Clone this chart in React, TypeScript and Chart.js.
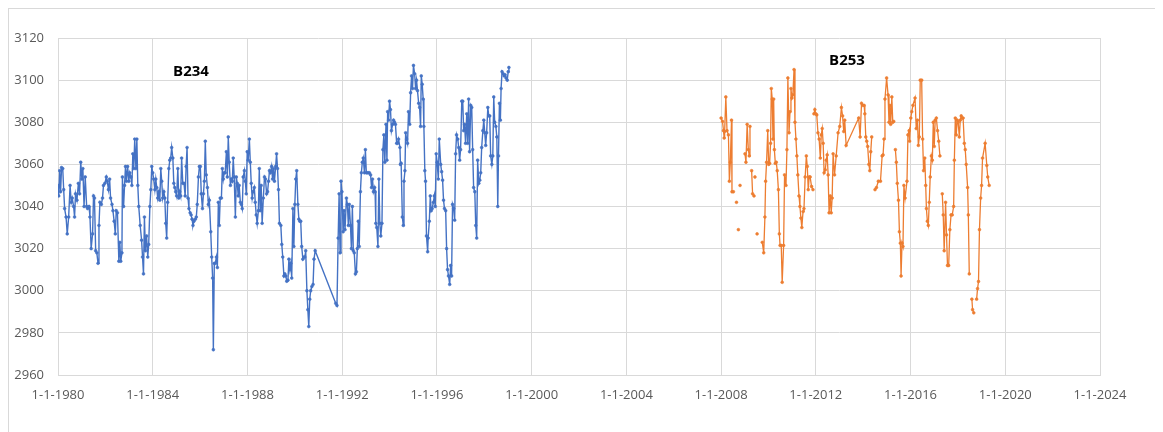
import React, { useEffect, useRef } from "react";
import { Chart, registerables } from "chart.js";

Chart.register(...registerables);

// B234 series (decimal years, values)
const b234Dates: number[] = [
  1980.00, 1980.03, 1980.07, 1980.11, 1980.15, 1980.20, 1980.24, 1980.28, 1980.34, 1980.39,
  1980.45, 1980.51, 1980.56, 1980.60, 1980.66, 1980.70, 1980.74, 1980.80, 1980.86, 1980.91,
  1980.96, 1981.01, 1981.05, 1981.10, 1981.15, 1981.21, 1981.25, 1981.31, 1981.35, 1981.40,
  1981.46, 1981.50, 1981.54, 1981.59, 1981.64, 1981.69, 1981.73, 1981.77, 1981.83, 1981.88,
  1981.92, 1981.98, 1982.04, 1982.08, 1982.13, 1982.18, 1982.22, 1982.28, 1982.32, 1982.37,
  1982.42, 1982.46, 1982.51, 1982.57, 1982.61, 1982.65, 1982.70, 1982.72, 1982.77, 1982.81,
  1982.85, 1982.89, 1982.94, 1982.99, 1983.03, 1983.08, 1983.12, 1983.16, 1983.20, 1983.24,
  1983.29, 1983.33, 1983.37, 1983.41, 1983.47, 1983.53, 1983.57, 1983.61, 1983.65, 1983.69,
  1983.74, 1983.79, 1983.83, 1983.88, 1983.92, 1983.96, 1984.00, 1984.04, 1984.09, 1984.13,
  1984.17, 1984.21, 1984.26, 1984.30, 1984.34, 1984.38, 1984.42, 1984.47, 1984.51, 1984.55,
  1984.59, 1984.63, 1984.68, 1984.72, 1984.76, 1984.80, 1984.85, 1984.89, 1984.93, 1984.97,
  1985.01, 1985.06, 1985.10, 1985.14, 1985.18, 1985.22, 1985.27, 1985.32, 1985.37, 1985.41,
  1985.45, 1985.49, 1985.53, 1985.58, 1985.62, 1985.66, 1985.70, 1985.74, 1985.80, 1985.84,
  1985.88, 1985.93, 1985.97, 1986.01, 1986.05, 1986.10, 1986.14, 1986.18, 1986.22, 1986.26,
  1986.31, 1986.35, 1986.39, 1986.45, 1986.49, 1986.53, 1986.56, 1986.60, 1986.64, 1986.69,
  1986.73, 1986.77, 1986.81, 1986.85, 1986.90, 1986.94, 1986.98, 1987.02, 1987.06, 1987.11,
  1987.15, 1987.19, 1987.23, 1987.28, 1987.32, 1987.36, 1987.40, 1987.44, 1987.49, 1987.53,
  1987.57, 1987.61, 1987.65, 1987.70, 1987.74, 1987.78, 1987.82, 1987.87, 1987.91, 1987.95,
  1987.99, 1988.03, 1988.08, 1988.12, 1988.16, 1988.20, 1988.24, 1988.29, 1988.33, 1988.37,
  1988.41, 1988.46, 1988.50, 1988.54, 1988.58, 1988.62, 1988.67, 1988.72, 1988.76, 1988.81,
  1988.85, 1988.89, 1988.93, 1988.97, 1989.02, 1989.06, 1989.10, 1989.14, 1989.19, 1989.23,
  1989.27, 1989.31, 1989.35, 1989.41, 1989.45, 1989.49, 1989.54, 1989.58, 1989.62, 1989.66,
  1989.71, 1989.75, 1989.79, 1989.83, 1989.87, 1989.92, 1989.96, 1990.00, 1990.04, 1990.08,
  1990.13, 1990.17, 1990.21, 1990.25, 1990.29, 1990.34, 1990.38, 1990.42, 1990.46, 1990.51,
  1990.55, 1990.59, 1990.63, 1990.67, 1990.72, 1990.77, 1990.81, 1990.86, 1991.73, 1991.78,
  1991.83, 1991.87, 1991.91, 1991.95, 1991.99, 1992.04, 1992.08, 1992.12, 1992.18, 1992.22,
  1992.26, 1992.30, 1992.35, 1992.39, 1992.43, 1992.47, 1992.51, 1992.56, 1992.60, 1992.64,
  1992.68, 1992.72, 1992.77, 1992.81, 1992.85, 1992.89, 1992.94, 1992.98, 1993.02, 1993.06,
  1993.11, 1993.15, 1993.20, 1993.24, 1993.28, 1993.32, 1993.37, 1993.39, 1993.42, 1993.46,
  1993.51, 1993.55, 1993.59, 1993.63, 1993.68, 1993.72, 1993.76, 1993.80, 1993.85, 1993.89,
  1993.92, 1993.96, 1994.00, 1994.04, 1994.08, 1994.13, 1994.17, 1994.21, 1994.25, 1994.30,
  1994.34, 1994.38, 1994.44, 1994.46, 1994.49, 1994.54, 1994.58, 1994.61, 1994.65, 1994.68,
  1994.72, 1994.76, 1994.80, 1994.85, 1994.89, 1994.93, 1994.97, 1995.01, 1995.06, 1995.10,
  1995.14, 1995.18, 1995.23, 1995.27, 1995.31, 1995.34, 1995.38, 1995.42, 1995.45, 1995.49,
  1995.52, 1995.56, 1995.61, 1995.63, 1995.68, 1995.72, 1995.76, 1995.80, 1995.85, 1995.89,
  1995.93, 1995.97, 1996.01, 1996.06, 1996.10, 1996.16, 1996.20, 1996.24, 1996.28, 1996.32,
  1996.37, 1996.41, 1996.45, 1996.49, 1996.54, 1996.58, 1996.62, 1996.66, 1996.71, 1996.75,
  1996.79, 1996.83, 1996.88, 1996.92, 1996.96, 1997.00, 1997.05, 1997.09, 1997.13, 1997.17,
  1997.21, 1997.26, 1997.30, 1997.34, 1997.38, 1997.43, 1997.47, 1997.51, 1997.55, 1997.60,
  1997.64, 1997.68, 1997.72, 1997.77, 1997.81, 1997.85, 1997.89, 1997.94, 1997.98, 1998.02,
  1998.06, 1998.10, 1998.15, 1998.19, 1998.23, 1998.27, 1998.32, 1998.36, 1998.40, 1998.44,
  1998.49, 1998.53, 1998.57, 1998.60, 1998.64, 1998.68, 1998.71, 1998.75, 1998.80, 1998.84,
  1998.88, 1998.92, 1998.97, 1999.01, 1999.04,
];

const b234Values: number[] = [
  3050, 3045, 3057, 3047, 3058.5, 3058, 3048, 3039, 3035, 3027,
  3035, 3050, 3042, 3044, 3040, 3035, 3046, 3043, 3051, 3046,
  3061, 3053, 3058, 3040, 3054, 3040, 3039, 3040, 3035, 3020,
  3027, 3045, 3044, 3019, 3018, 3013, 3031, 3042, 3041, 3044,
  3050, 3051, 3054, 3052, 3048, 3053, 3044, 3041, 3038, 3033,
  3027, 3038, 3037, 3014, 3023, 3014, 3018, 3054, 3040, 3050,
  3059, 3052, 3059, 3052, 3056, 3054, 3050, 3065, 3058, 3072,
  3058, 3072, 3050, 3040, 3031, 3024, 3016, 3008, 3035, 3019,
  3026, 3016, 3022, 3040, 3048, 3059, 3056, 3053, 3048, 3053,
  3049, 3044, 3047, 3043, 3058, 3052, 3044, 3047, 3044, 3032,
  3025, 3042, 3058, 3062, 3063, 3068, 3063, 3051, 3049, 3047,
  3045, 3058, 3044, 3047, 3045, 3063, 3051, 3051, 3045, 3059,
  3068, 3044, 3039, 3037, 3036, 3034, 3031, 3033, 3034, 3035,
  3041, 3054, 3059, 3059, 3046, 3039, 3046, 3052, 3071, 3055,
  3049, 3041, 3043, 3028, 3016, 3006, 2972, 3013, 3013, 3016,
  3011, 3042, 3031, 3044, 3044, 3058, 3053, 3056, 3056, 3066,
  3054, 3073, 3061, 3050, 3053, 3052, 3063, 3054, 3035, 3054,
  3051, 3045, 3050, 3042, 3041, 3039, 3054, 3057, 3052, 3046,
  3066, 3062, 3072, 3061, 3051, 3044, 3047, 3049, 3042, 3036,
  3032, 3038, 3058, 3038, 3050, 3032, 3044, 3054, 3053, 3046,
  3047, 3052, 3057, 3056, 3059, 3053, 3058, 3052, 3059, 3065,
  3058, 3048, 3032, 3031, 3022, 3016, 3007, 3008, 3007, 3004.5,
  3005, 3015, 3010, 3013, 3006, 3039, 3021, 3041, 3053, 3057,
  3041, 3034, 3033, 3033, 3021, 3015, 3016, 3016, 3019, 3000,
  2991, 2983, 2996, 3000, 3002, 3003, 3015, 3019, 2994, 2993,
  3025, 3046, 3018, 3052, 3047, 3028, 3038, 3029, 3044, 3041,
  3031, 3041, 3031, 3020, 3040, 3019, 3018, 3008, 3009, 3020,
  3033, 3021, 3047, 3056, 3061, 3063, 3056, 3067, 3056, 3056,
  3056, 3056, 3055, 3049, 3053, 3047, 3049, 3047, 3032, 3030,
  3021, 3053, 3032, 3026, 3032, 3067, 3074, 3061, 3079, 3062,
  3085, 3081, 3090, 3086, 3076, 3079, 3081, 3080, 3079, 3070,
  3070, 3072, 3068, 3060, 3060.5, 3035, 3031, 3052, 3057, 3075,
  3072, 3070, 3085, 3079, 3094, 3102, 3096, 3107, 3103, 3096,
  3100, 3095, 3089, 3087, 3078, 3102, 3098, 3091, 3078, 3057,
  3052, 3026, 3018.5, 3025, 3033, 3045, 3038, 3039, 3042, 3045,
  3040, 3065, 3061, 3053, 3072, 3060, 3056.5, 3052.5, 3043, 3039,
  3038, 3020, 3010, 3007, 3003, 3012, 3007, 3041, 3039, 3033.5,
  3065, 3074, 3072, 3068, 3062, 3067, 3090, 3090, 3076, 3079,
  3070, 3084, 3070, 3091, 3066, 3088, 3087, 3067, 3049, 3047,
  3031, 3025, 3062, 3051, 3052.5, 3056, 3068, 3076, 3081, 3075,
  3069, 3075, 3087, 3083, 3083, 3064, 3060, 3064, 3092, 3080,
  3078, 3073, 3040, 3064, 3089, 3081, 3096, 3104, 3103, 3102,
  3102.5, 3101, 3100, 3104, 3106,
];

// B253 series (null = gap in the record)
const b253Dates: number[] = [
  2008.00, 2008.06, 2008.10, 2008.13, 2008.15, 2008.20, 2008.25, 2008.31, 2008.35, 2008.39,
  2008.44, 2008.46, 2008.52, 2008.58, 2008.65, 2008.69, 2008.73, 2008.76, 2008.80, 2008.90,
  2009.01, 2009.05, 2009.10, 2009.15, 2009.19, 2009.22, 2009.25, 2009.29, 2009.33, 2009.39,
  2009.41, 2009.43, 2009.47, 2009.52, 2009.63, 2009.74, 2009.80, 2009.85, 2009.88, 2009.92,
  2009.97, 2010.01, 2010.05, 2010.09, 2010.12, 2010.16, 2010.19, 2010.22, 2010.25, 2010.29,
  2010.33, 2010.37, 2010.42, 2010.46, 2010.49, 2010.54, 2010.58, 2010.64, 2010.68, 2010.74,
  2010.78, 2010.82, 2010.87, 2010.91, 2010.95, 2010.99, 2011.03, 2011.08, 2011.12, 2011.16,
  2011.20, 2011.24, 2011.29, 2011.33, 2011.37, 2011.41, 2011.46, 2011.50, 2011.55, 2011.60,
  2011.64, 2011.68, 2011.72, 2011.76, 2011.82, 2011.88, 2011.90, 2011.92, 2011.96, 2012.00,
  2012.04, 2012.09, 2012.14, 2012.19, 2012.23, 2012.27, 2012.31, 2012.35, 2012.40, 2012.44,
  2012.48, 2012.52, 2012.56, 2012.61, 2012.65, 2012.69, 2012.73, 2012.79, 2012.86, 2012.94,
  2013.01, 2013.08, 2013.13, 2013.18, 2013.22, 2013.28, 2013.81, 2013.87, 2013.93, 2013.98,
  2014.04, 2014.07, 2014.11, 2014.15, 2014.19, 2014.24, 2014.28, 2014.32, 2014.36, 2014.43,
  2014.50, 2014.56, 2014.64, 2014.73, 2014.80, 2014.84, 2014.88, 2014.92, 2014.99, 2015.05,
  2015.09, 2015.13, 2015.16, 2015.21, 2015.25, 2015.29, 2015.32, 2015.36, 2015.40, 2015.44,
  2015.49, 2015.53, 2015.57, 2015.60, 2015.64, 2015.68, 2015.72, 2015.77, 2015.85, 2015.89,
  2015.94, 2015.96, 2016.01, 2016.05, 2016.10, 2016.19, 2016.24, 2016.29, 2016.33, 2016.37,
  2016.41, 2016.47, 2016.51, 2016.55, 2016.60, 2016.64, 2016.67, 2016.71, 2016.75, 2016.79,
  2016.83, 2016.88, 2016.92, 2016.96, 2017.00, 2017.04, 2017.09, 2017.14, 2017.19, 2017.24,
  2017.29, 2017.34, 2017.38, 2017.42, 2017.48, 2017.52, 2017.56, 2017.61, 2017.66, 2017.71,
  2017.76, 2017.82, 2017.85, 2017.89, 2017.93, 2017.97, 2018.01, 2018.06, 2018.10, 2018.14,
  2018.18, 2018.22, 2018.27, 2018.31, 2018.35, 2018.41, 2018.44, 2018.48, 2018.53, 2018.59,
  2018.62, 2018.67, 2018.73, 2018.79, 2018.83, 2018.87, 2018.91, 2018.96, 2019.00, 2019.04,
  2019.15, 2019.22, 2019.26, 2019.32,
];

const b253Values: (number | null)[] = [
  3082, 3080.4, 3076, 3072.5, 3075.6, 3092, 3076, 3074, 3052, 3061,
  3081, 3047, 3047, null, 3042, null, 3029, null, 3050, null,
  3065, 3061, 3079, 3067, 3064, 3078, null, 3057, 3046, 3045,
  null, 3054, null, 3027, null, 3023, 3018, 3035, 3052, 3061,
  3076, 3060, 3060.5, 3070, 3096, 3091, 3072, 3091, 3067, 3060.5,
  3061, 3057, 3048, 3027, 3021.5, 3021.5, 3004, 3021.5, 3055, 3050,
  3067, 3101, 3075, 3085, 3096, 3091.5, 3093, 3105, 3080, 3072,
  3064, 3055, 3045, 3040, 3034.5, 3030, 3037.6, 3039, 3054, 3064,
  3059, 3048, 3054, 3054, 3049.5, 3048, null, 3084, 3086, 3084,
  3083.5, 3075, 3072, 3063, 3074, 3077, 3070, 3056, 3057.4, 3062,
  3064.5, 3055, 3037, 3045, 3037, 3044, 3065, 3055, 3064, 3075,
  3078, 3087, 3083, 3075.6, 3081, 3069, 3082, 3073, 3089, 3088,
  3088, 3084, 3073, 3071, 3068.5, 3060, 3057, 3066, 3073, null,
  3048, 3049, 3052, 3052, 3064, 3064.5, 3072, 3091, 3101, 3093,
  3080, 3088, 3079, 3092, 3080, 3080.4, null, 3067, 3061, 3051,
  3043, 3028, 3022.6, 3007, 3022.6, 3021, 3050, 3044, 3052, 3074,
  3076, 3071, 3082, 3085, 3088, 3091.5, 3077, 3081, 3069, 3073,
  3100, 3100, 3072, 3057, 3063, 3050, 3039, 3033, 3031, 3042,
  3054, 3064, 3062, 3080, 3068.5, 3081, 3082, 3076, 3071, 3064,
  null, 3046, 3036, 3019, 3042, 3026.5, 3012, 3012, 3029, 3036,
  3036, 3040, 3062, 3082, 3074, 3081, 3080, 3073, 3081, 3083,
  3082, 3082, 3070, 3067, 3060, 3049, 3036, 3008, null, 2996,
  2991, 2989.5, null, 2996, 3001, 3004.4, 3029, 3044, 3050, 3063,
  3070, 3059.5, 3054, 3050,
];

const xTickYears: number[] = [1980, 1984, 1988, 1992, 1996, 2000, 2004, 2008, 2012, 2016, 2020, 2024];
const yTicks: number[] = [2960, 2980, 3000, 3020, 3040, 3060, 3080, 3100, 3120];
const seriesNames: string[] = ["B234", "B253"];

const BLUE = "#4472C4";
const ORANGE = "#ED7D31";
const GRID = "#d9d9d9";
const FONT = "'Open Sans', 'Noto Sans', sans-serif";

export default function App() {
  const canvasRef = useRef<HTMLCanvasElement | null>(null);

  useEffect(() => {
    if (!canvasRef.current) return;
    const blue = b234Dates.map((d, i) => ({ x: d, y: b234Values[i] }));
    const orange = b253Dates.map((d, i) => ({ x: d, y: b253Values[i] }));
    const chart = new Chart(canvasRef.current, {
      type: "line",
      data: {
        datasets: [
          {
            label: seriesNames[0],
            data: blue,
            borderColor: BLUE,
            backgroundColor: BLUE,
            borderWidth: 1.4,
            pointRadius: 1.4,
            pointBorderWidth: 0.6,
            pointHoverRadius: 0,
            tension: 0,
            spanGaps: false,
          },
          {
            label: seriesNames[1],
            data: orange,
            borderColor: ORANGE,
            backgroundColor: ORANGE,
            borderWidth: 1.3,
            pointRadius: 1.4,
            pointBorderWidth: 0.6,
            pointHoverRadius: 0,
            tension: 0,
            spanGaps: false,
          },
        ],
      },
      options: {
        animation: false,
        responsive: false,
        devicePixelRatio: 1,
        layout: { padding: { left: 0, right: 56, top: 29, bottom: 16 } },
        plugins: { legend: { display: false }, tooltip: { enabled: false } },
        scales: {
          x: {
            type: "linear",
            min: 1980,
            max: 2024,
            afterBuildTicks: (axis: any) => {
              axis.ticks = xTickYears.map((v) => ({ value: v }));
            },
            afterFit: (axis: any) => {
              axis.height = 41;
            },
            ticks: {
              color: "#595959",
              font: { family: FONT, size: 13 },
              padding: 12,
              maxRotation: 0,
              callback: (v: any) => "1-1-" + v,
            },
            grid: { color: GRID, lineWidth: 1, drawTicks: false },
            border: { color: GRID, width: 1 },
          },
          y: {
            type: "linear",
            min: 2960,
            max: 3120,
            afterBuildTicks: (axis: any) => {
              axis.ticks = yTicks.map((v) => ({ value: v }));
            },
            afterFit: (axis: any) => {
              axis.width = 49;
            },
            ticks: {
              color: "#595959",
              font: { family: FONT, size: 13 },
              padding: 14,
              callback: (v: any) => String(v),
            },
            grid: { color: GRID, lineWidth: 1, drawTicks: false },
            border: { display: false },
          },
        },
      },
    } as any);
    return () => chart.destroy();
  }, []);

  const labelStyle: React.CSSProperties = {
    position: "absolute",
    transform: "translate(-50%, -50%)",
    fontFamily: FONT,
    fontWeight: 700,
    fontSize: 15,
    color: "#000",
    whiteSpace: "nowrap",
  };

  return (
    <div
      style={{
        position: "relative",
        width: 1147,
        height: 423,
        border: "1px solid #d9d9d9",
        background: "#fff",
      }}
    >
      <canvas ref={canvasRef} width={1147} height={423} style={{ display: "block" }} />
      <div style={{ ...labelStyle, left: 182, top: 61 }}>{seriesNames[0]}</div>
      <div style={{ ...labelStyle, left: 838, top: 49.5 }}>{seriesNames[1]}</div>
    </div>
  );
}
